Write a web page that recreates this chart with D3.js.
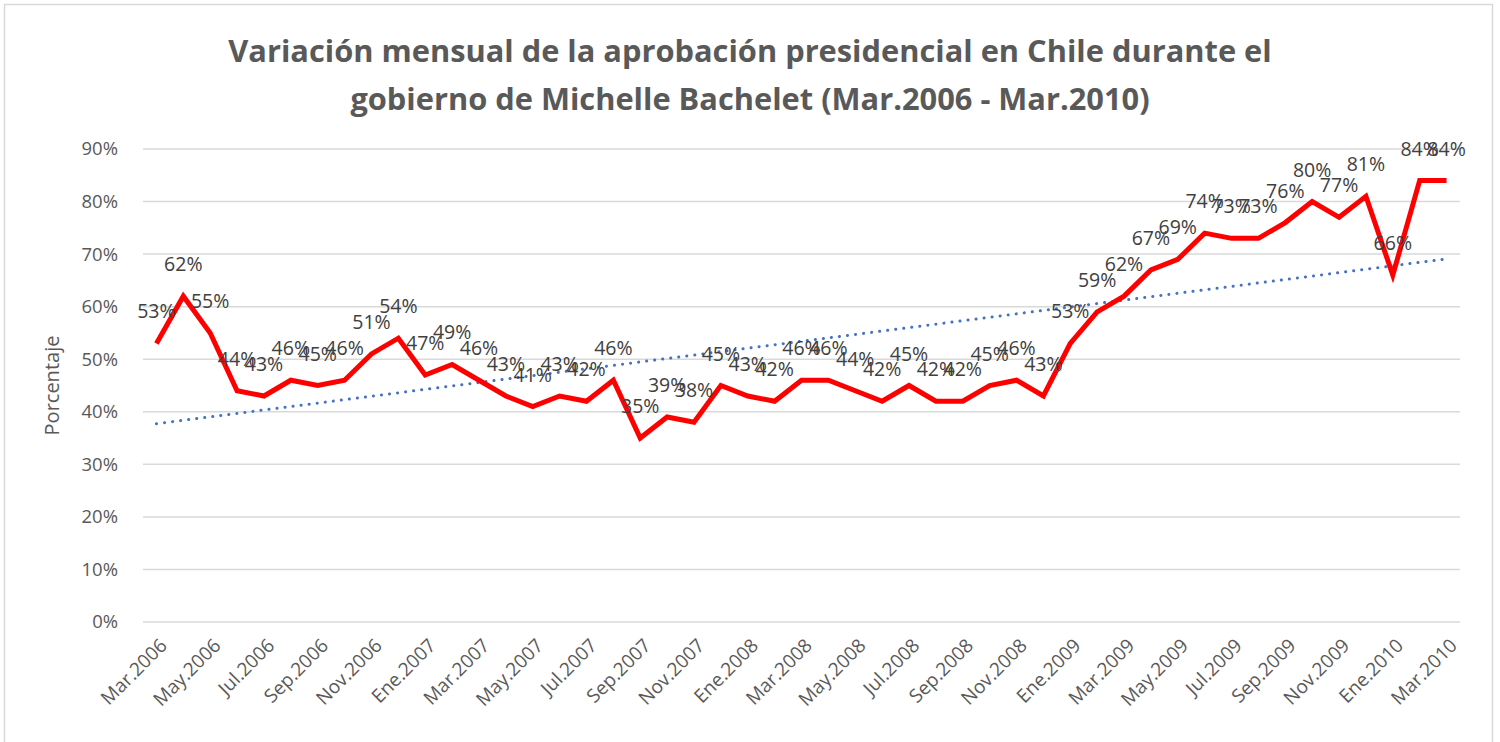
<!DOCTYPE html>
<html><head><meta charset="utf-8">
<script src="https://cdn.jsdelivr.net/npm/d3@7"></script>
<style>body{margin:0;background:#fff;}svg{display:block;}</style>
</head><body>
<script>
const months = ["Mar.2006","Abr.2006","May.2006","Jun.2006","Jul.2006","Ago.2006","Sep.2006","Oct.2006","Nov.2006","Dic.2006",
"Ene.2007","Feb.2007","Mar.2007","Abr.2007","May.2007","Jun.2007","Jul.2007","Ago.2007","Sep.2007","Oct.2007","Nov.2007","Dic.2007",
"Ene.2008","Feb.2008","Mar.2008","Abr.2008","May.2008","Jun.2008","Jul.2008","Ago.2008","Sep.2008","Oct.2008","Nov.2008","Dic.2008",
"Ene.2009","Feb.2009","Mar.2009","Abr.2009","May.2009","Jun.2009","Jul.2009","Ago.2009","Sep.2009","Oct.2009","Nov.2009","Dic.2009",
"Ene.2010","Feb.2010","Mar.2010"];
const approval = [53,62,55,44,43,46,45,46,51,54,
47,49,46,43,41,43,42,46,35,39,38,45,
43,42,46,46,44,42,45,42,42,45,46,43,
53,59,62,67,69,74,73,73,76,80,77,81,
66,84,84];
const yTicks = [0,10,20,30,40,50,60,70,80,90];
const titleLines = ["Variación mensual de la aprobación presidencial en Chile durante el","gobierno de Michelle Bachelet (Mar.2006 - Mar.2010)"];
const yTitle = "Porcentaje";

(function(){
const W=1500,H=742;
const svg=d3.select("body").append("svg").attr("width",W).attr("height",H);
svg.append("rect").attr("x",4.5).attr("y",4.5).attr("width",1488).attr("height",740).attr("fill","#fff").attr("stroke","#d9d9d9").attr("stroke-width",1.5);

const pL=143,pR=1460,pT=149,pB=622;
const x=d3.scaleBand().domain(months).range([pL,pR]);
const y=d3.scaleLinear().domain([0,90]).range([pB,pT]);
const cx=d=>x(d)+x.bandwidth()/2;
const grey="#595959";
const font="Open Sans, sans-serif";

svg.append("g").selectAll("line").data(yTicks).join("line")
 .attr("x1",pL).attr("x2",pR).attr("y1",d=>y(d)).attr("y2",d=>y(d))
 .attr("stroke","#d9d9d9").attr("stroke-width",1.5);

svg.append("g").selectAll("text").data(yTicks).join("text")
 .attr("x",118).attr("y",d=>y(d)).attr("dy","0.35em").attr("text-anchor","end")
 .attr("font-family",font).attr("font-size",18.5).attr("fill",grey)
 .text(d=>d+"%");

svg.append("text").attr("transform",`translate(59,${(pT+pB)/2}) rotate(-90)`)
 .attr("text-anchor","middle").attr("font-family",font).attr("font-size",20).attr("fill",grey).text(yTitle);

const shown=months.filter((m,i)=>i%2===0);
svg.append("g").selectAll("text").data(shown).join("text")
 .attr("transform",d=>`translate(${cx(d)+7},${pB+20}) rotate(-45)`)
 .attr("text-anchor","end").attr("dy","0.35em")
 .attr("font-family",font).attr("font-size",19).attr("fill",grey).text(d=>d);

const n=approval.length;
const xs=d3.range(n);
const mx=d3.mean(xs), my=d3.mean(approval);
const slope=d3.sum(xs,i=>(i-mx)*(approval[i]-my))/d3.sum(xs,i=>(i-mx)*(i-mx));
const icpt=my-slope*mx;
svg.append("line").attr("x1",cx(months[0])).attr("x2",cx(months[n-1]))
 .attr("y1",y(icpt)).attr("y2",y(icpt+slope*(n-1)))
 .attr("stroke","#4472C4").attr("stroke-width",3).attr("stroke-dasharray","0.1 8").attr("stroke-linecap","round");

const line=d3.line().x((d,i)=>cx(months[i])).y(d=>y(d));
svg.append("path").datum(approval).attr("d",line).attr("fill","none")
 .attr("stroke","#FF0000").attr("stroke-width",5).attr("stroke-linejoin","miter").attr("stroke-linecap","butt");

svg.append("g").selectAll("text").data(approval).join("text")
 .attr("x",(d,i)=>cx(months[i])).attr("y",d=>y(d)-25)
 .attr("text-anchor","middle").attr("font-family",font).attr("font-size",19.5).attr("fill","#404040")
 .text(d=>d+"%");

svg.append("g").selectAll("text").data(titleLines).join("text")
 .attr("x",750).attr("y",(d,i)=>62+i*48).attr("text-anchor","middle")
 .attr("font-family",font).attr("font-weight","bold").attr("font-size",30.8).attr("fill",grey).text(d=>d);
})();
</script>
</body></html>
